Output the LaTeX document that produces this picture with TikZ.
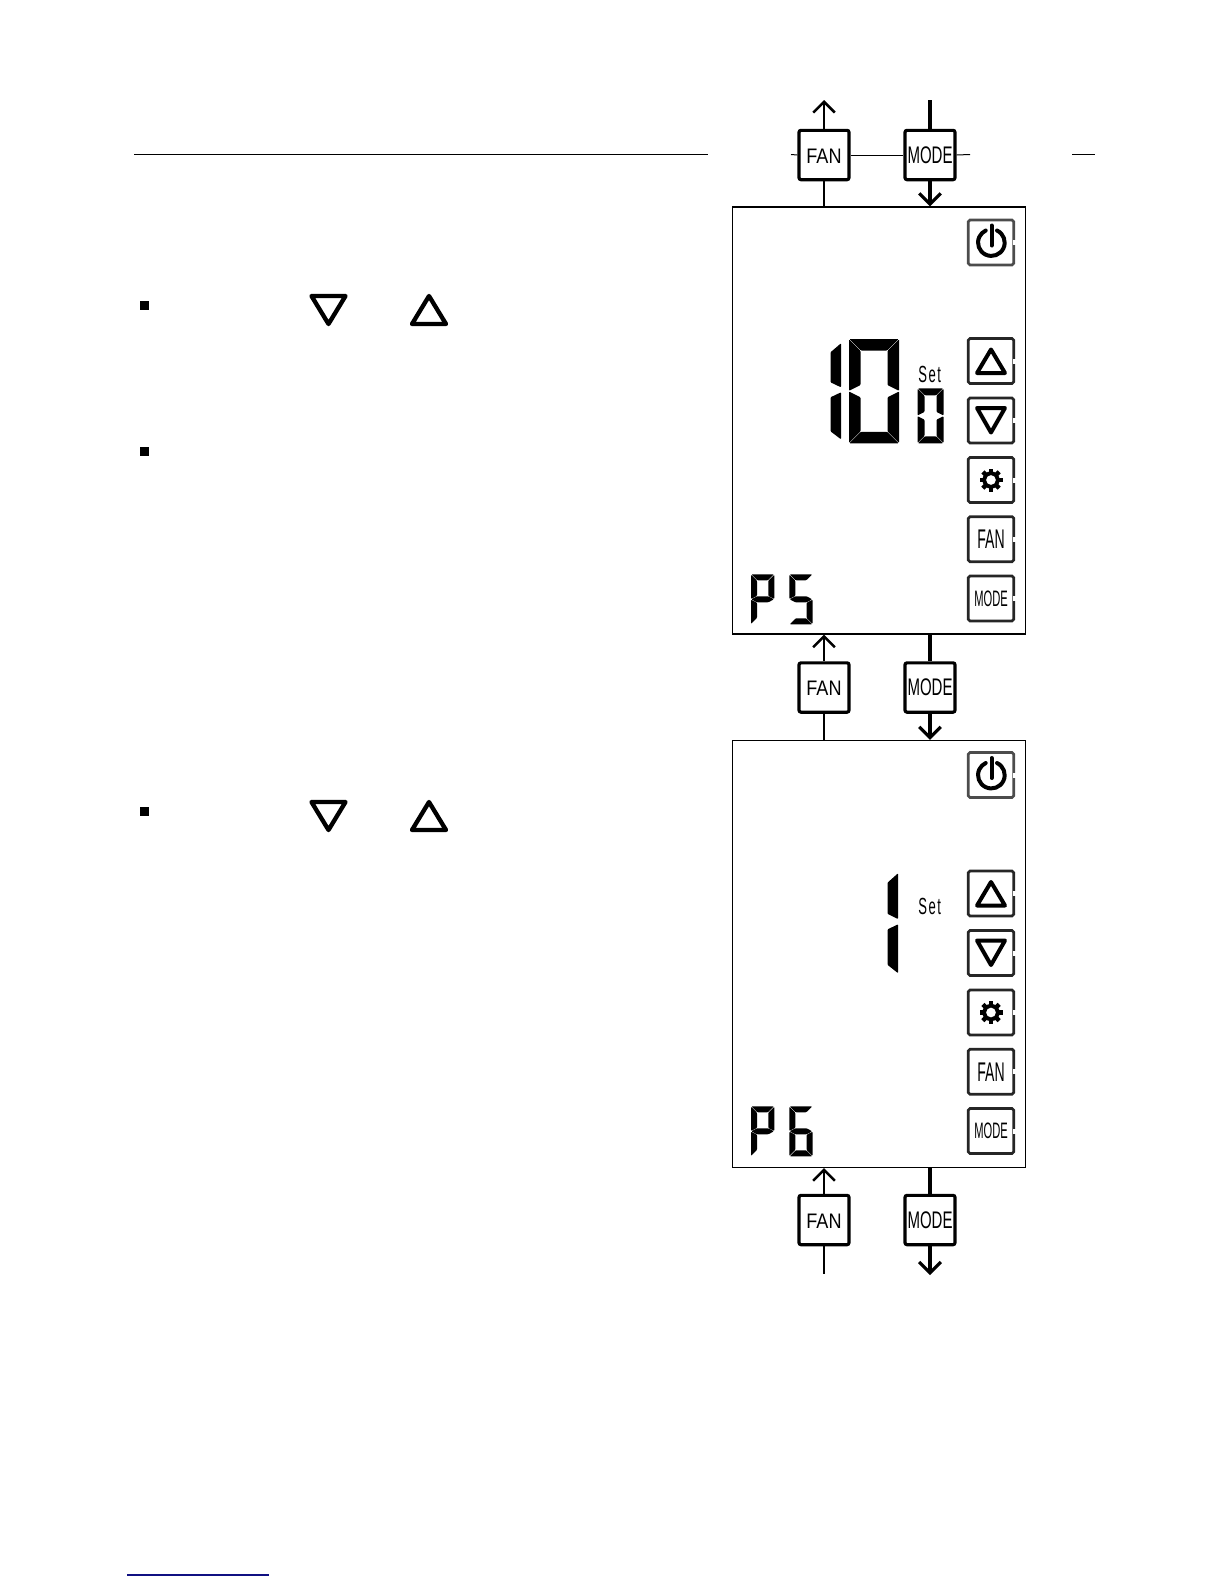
\documentclass[tikz,border=0pt]{standalone}
\usepackage{graphicx}
\usepackage{fontspec}
\setmainfont{Liberation Sans}
\usetikzlibrary{arrows.meta}

% lcd segments
\newcommand{\sega}{\fill[lcd] (0.4,0) -- ({\dw-0.4},0) -- ({\dw-\dt-0.4},\dt) -- ({\dt+0.4},\dt) -- cycle;}
\newcommand{\segb}{\fill[lcd] (\dw,0.4) -- (\dw,{\dh/2-0.4}) -- ({\dw-\dt},{\dh/2-\dt/2-0.4}) -- ({\dw-\dt},{\dt+0.4}) -- cycle;}
\newcommand{\segc}{\fill[lcd] (\dw,{\dh/2+0.4}) -- (\dw,{\dh-0.4}) -- ({\dw-\dt},{\dh-\dt-0.4}) -- ({\dw-\dt},{\dh/2+\dt/2+0.4}) -- cycle;}
\newcommand{\segd}{\fill[lcd] (0.4,\dh) -- ({\dw-0.4},\dh) -- ({\dw-\dt-0.4},{\dh-\dt}) -- ({\dt+0.4},{\dh-\dt}) -- cycle;}
\newcommand{\sege}{\fill[lcd] (0,{\dh/2+0.4}) -- (0,{\dh-0.4}) -- (\dt,{\dh-\dt-0.4}) -- (\dt,{\dh/2+\dt/2+0.4}) -- cycle;}
\newcommand{\segf}{\fill[lcd] (0,0.4) -- (0,{\dh/2-0.4}) -- (\dt,{\dh/2-\dt/2-0.4}) -- (\dt,{\dt+0.4}) -- cycle;}
\newcommand{\segg}{\fill[lcd] (0.4,{\dh/2}) -- (\dt,{\dh/2-\dt/2}) -- ({\dw-\dt},{\dh/2-\dt/2}) -- ({\dw-0.4},{\dh/2}) -- ({\dw-\dt},{\dh/2+\dt/2}) -- (\dt,{\dh/2+\dt/2}) -- cycle;}
\newcommand{\segdigit}[6]{\begin{scope}[shift={(#1,#2)}]\def\dw{#3}\def\dh{#4}\def\dt{#5}#6\end{scope}}
% tall "one"
\newcommand{\bigone}[3]{\begin{scope}[shift={(#1,#2)}, yscale=#3]
    \fill[lcd] (10.5,0) -- (10.5,44) -- (0,39) -- (0,9) -- cycle;
    \fill[lcd] (10.5,49) -- (10.5,96) -- (0,88) -- (0,54) -- cycle;
\end{scope}}
% keys on the panels
\newcommand{\keytext}[2]{\scalebox{#1}[1]{#2}}
\newcommand{\setlabel}{\keytext{0.56}{S\kern1.6pt e\kern1.6pt t}}
\newcommand{\softkey}[5][]{
    \node[softkey,#1] (#2) at (#3,#4) {#5};
    \draw[notch] ([shift={(0,-2.5)}]#2.east) -- ([shift={(0,2.5)}]#2.east);
}
\newcommand{\powericon}[1]{
    \draw[icon] ([shift={(6,-12)}]#1.center) arc[start angle=65,end angle=-245,radius=8pt];
    \draw[icon] ([shift={(0.5,-17)}]#1.center) -- ([shift={(0.5,3)}]#1.center);
}
\newcommand{\upicon}[1]{\draw[icon] ([shift={(-14,12)}]#1.center) -- ([shift={(14,12)}]#1.center) -- ([shift={(0,-11.5)}]#1.center) -- cycle;}
\newcommand{\downicon}[1]{\draw[icon] ([shift={(-14,-12.5)}]#1.center) -- ([shift={(14,-12.5)}]#1.center) -- ([shift={(0,12)}]#1.center) -- cycle;}
\newcommand{\gearicon}[1]{
    \foreach \a in {0,45,...,315} {\draw[line width=2.7pt] (#1.center) -- ++(\a:11.5);}
    \fill[black] (#1.center) circle (5.2pt);
    \fill[white] (#1.center) circle (2.9pt);
}

\begin{document}
\begin{tikzpicture}[
        x=0.6pt, y=-0.6pt,
        panel/.style={draw, line width=0.7pt, minimum width=175.8pt, minimum height=256.2pt, inner sep=0pt},
        pressbtn/.style={draw, line width=1.9pt, rounded corners=1.2pt, minimum width=30pt, minimum height=29.6pt, inner sep=0pt},
        softkey/.style={draw, black!85, text=black, line width=1.6pt, rounded corners=1pt, minimum width=27.3pt, minimum height=27pt, inner sep=0pt},
        notch/.style={white, line width=2.4pt},
        wire/.style={line width=1.9pt},
        arrowwire/.style={wire, -{Straight Barb[length=6.5pt,width=13pt,line width=1.9pt]}},
        fanwire/.style={line width=1.4pt},
        fanarrow/.style={fanwire, -{Straight Barb[length=6.5pt,width=13pt,line width=1.5pt]}},
        rulerline/.style={line width=0.6pt},
        icon/.style={line width=2.4pt, line join=round, line cap=round},
        keymark/.style={line width=2.6pt, line join=round},
        lcd/.style={black, rounded corners=0.5pt},
        bullet/.style={fill, minimum size=5.4pt, inner sep=0pt},
        fanfont/.style={yshift=-0.6pt, font=\fontsize{12.6}{13}\selectfont},
        modefont/.style={font=\fontsize{14.4}{15}\selectfont},
        keyfan/.style={font=\fontsize{16.2}{17}\selectfont},
        keymode/.style={font=\fontsize{13.4}{14}\selectfont},
        setfont/.style={inner sep=0pt, font=\fontsize{14}{15}\selectfont}
    ]
    \useasboundingbox (0,0) rectangle (1224,1584);

    % panels
    \node[panel] (panelA) at (879,420.5) {};
    \node[panel] (panelB) at (879,954) {};

    % header rule and footer rule
    \draw[rulerline] (134,154.5) -- (708,154.5);
    \draw[rulerline] (1072,154.5) -- (1095,154.5);
    \draw[line width=0.9pt, color={rgb,255:red,16;green,16;blue,130}] (127,1575) -- (269,1575);

    % buttons between the panels
    \node[pressbtn] (fanA) at (824,155) {};
    \node[pressbtn,modefont] (modeA) at (930,155) {\keytext{0.625}{MODE}};
    \node[pressbtn] (fanB) at (824,687.5) {};
    \node[pressbtn,modefont] (modeB) at (930,687.5) {\keytext{0.625}{MODE}};
    \node[pressbtn] (fanC) at (824,1220) {};
    \node[pressbtn,modefont] (modeC) at (930,1220) {\keytext{0.625}{MODE}};
    \node[fanfont, inner sep=0pt] (fanAtext) at (fanA.center) {\keytext{0.86}{FAN}};
    \node[fanfont, inner sep=0pt] (fanBtext) at (fanB.center) {\keytext{0.86}{FAN}};
    \node[fanfont, inner sep=0pt] (fanCtext) at (fanC.center) {\keytext{0.86}{FAN}};

    \coordinate (fanAtip) at (824,100);
    \coordinate (modeAend) at (930,100);
    \coordinate (fanCend) at (824,1274);
    \coordinate (modeCtip) at (930,1275);
    \coordinate (ruleL) at (791,154.5);
    \coordinate (ruleR) at (970,154.5);

    \draw[rulerline] (ruleL) -- (fanA.west);
    \draw[rulerline] (fanA.east) -- (modeA.west);
    \draw[rulerline] (modeA.east) -- (ruleR);

    \draw[fanarrow] (fanA.north) -- (fanAtip);
    \draw[wire] (modeAend) -- (modeA.north);
    \draw[fanwire] (fanA.south) -- (fanA.south |- panelA.north);
    \draw[arrowwire] (modeA.south) -- (modeA.south |- panelA.north);

    \draw[fanarrow] (fanB.north) -- (fanB.north |- panelA.south);
    \draw[wire] (modeB.north |- panelA.south) -- (modeB.north);
    \draw[fanwire] (fanB.south) -- (fanB.south |- panelB.north);
    \draw[arrowwire] (modeB.south) -- (modeB.south |- panelB.north);

    \draw[fanarrow] (fanC.north) -- (fanC.north |- panelB.south);
    \draw[wire] (modeC.north |- panelB.south) -- (modeC.north);
    \draw[fanwire] (fanC.south) -- (fanCend);
    \draw[arrowwire] (modeC.south) -- (modeCtip);

    % keys, first panel
    \softkey[black!70]{powerA}{991}{242.5}{}
    \softkey{upA}{991}{361}{}
    \softkey{downA}{991}{420.5}{}
    \softkey{gearA}{991}{480}{}
    \softkey[keyfan]{keyfanA}{991}{539.2}{\keytext{0.52}{FAN}}
    \softkey[keymode]{keymodeA}{991}{598.5}{\keytext{0.5}{MODE}}
    \powericon{powerA}
    \upicon{upA}
    \downicon{downA}
    \gearicon{gearA}

    % keys, second panel
    \softkey[black!70]{powerB}{991}{775}{}
    \softkey{upB}{991}{893.5}{}
    \softkey{downB}{991}{953}{}
    \softkey{gearB}{991}{1012.5}{}
    \softkey[keyfan]{keyfanB}{991}{1071.7}{\keytext{0.52}{FAN}}
    \softkey[keymode]{keymodeB}{991}{1131}{\keytext{0.5}{MODE}}
    \powericon{powerB}
    \upicon{upB}
    \downicon{downB}
    \gearicon{gearB}

    % readout, first panel
    \bigone{830.5}{343.3}{1}
    \segdigit{849}{339}{50}{104.3}{11.5}{\sega\segb\segc\segd\sege\segf}
    \node[setfont] (setA) at (929.7,374) {\setlabel};
    \segdigit{917.5}{388.3}{26}{55}{7}{\sega\segb\segc\segd\sege\segf}
    \segdigit{751}{574.3}{23.3}{50}{6}{\sega\segb\sege\segf\segg}
    \segdigit{789.3}{574.3}{23.3}{50}{6}{\sega\segc\segd\segf\segg}

    % readout, second panel
    \bigone{887.5}{873.3}{1.04}
    \node[setfont] (setB) at (929.7,906) {\setlabel};
    \segdigit{751}{1106.3}{23.3}{50}{6}{\sega\segb\sege\segf\segg}
    \segdigit{789.3}{1106.3}{23.3}{50}{6}{\sega\segc\segd\sege\segf\segg}

    % bullets and key marks in the text column
    \node[bullet] (bulletA) at (144.5,305.5) {};
    \node[bullet] (bulletB) at (144.5,451.8) {};
    \node[bullet] (bulletC) at (144.5,811.5) {};
    \draw[keymark] (311.5,296) -- (345.5,296) -- (328.5,324) -- cycle;
    \draw[keymark] (412,324) -- (446,324) -- (429,296) -- cycle;
    \draw[keymark] (311.5,802) -- (345.5,802) -- (328.5,830) -- cycle;
    \draw[keymark] (412,830) -- (446,830) -- (429,802) -- cycle;
\end{tikzpicture}
\end{document}
